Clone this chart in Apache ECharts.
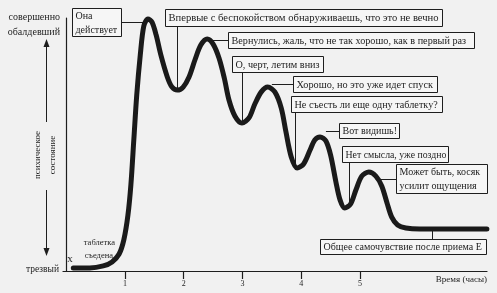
<!DOCTYPE html>
<html><head><meta charset="utf-8">
<script src="https://cdn.jsdelivr.net/npm/echarts@6/dist/echarts.min.js"></script>
<style>html,body{margin:0;padding:0;background:#f1f1f1}#c{width:497px;height:293px}</style>
</head><body><div id="c"></div>
<script>
// Time (hours) and mental-state level (0 = sober, 100 = completely stoned)
const hours = [0.12,0.40,0.63,0.78,0.90,0.98,1.05,1.10,1.15,1.20,1.26,1.32,1.39,1.46,1.53,1.61,1.72,1.80,1.89,1.99,2.09,2.19,2.29,2.40,2.50,2.60,2.69,2.77,2.87,2.99,3.11,3.21,3.32,3.43,3.55,3.66,3.74,3.83,3.93,4.04,4.15,4.23,4.32,4.42,4.50,4.59,4.66,4.74,4.84,4.93,5.03,5.15,5.27,5.37,5.46,5.54,5.64,5.78,6.02,7.16];
const level = [1.2,1.2,2.0,3.6,6.7,12.3,22.1,34.0,51.8,69.6,85.4,96.8,99.6,98.4,93.3,85.4,76.7,72.7,71.5,72.7,76.7,83.4,89.3,91.7,89.7,84.2,76.3,67.6,61.3,58.5,60.5,66.0,70.8,72.7,70.8,64.4,54.9,45.1,40.7,42.3,47.8,51.8,53.0,51.4,45.8,35.2,28.1,24.9,26.5,32.0,37.5,39.1,37.5,33.6,26.9,21.3,18.2,17.0,16.6,16.6];
const tickHours = [1,2,3,4,5];
const xAxisName = 'Время (часы)';
const noteTexts = ['Она\nдействует','Впервые с беспокойством обнаруживаешь, что это не вечно','Вернулись, жаль, что не так хорошо, как в первый раз','О, черт, летим вниз','Хорошо, но это уже идет спуск','Не съесть ли еще одну таблетку?','Вот видишь!','Нет смысла, уже поздно','Может быть, косяк\nусилит ощущения','Общее самочувствие после приема E'];
// points on the curve that each note refers to [hours, level]
const noteAnchors = [[1.31,98.4],[1.885,72.3],[2.48,91.3],[2.99,59.3],[3.50,73.9],[3.89,41.1],[4.42,55.3],[4.81,25.7],[5.27,38.3],[6.23,15.8]];

// layout of the note boxes (pixels)
const boxLayout = [
  {x:72,y:8,w:49,h:28,leader:'right',fs:10},
  {x:165,y:9,w:277,h:17,leader:'down',fs:10.6},
  {x:228,y:32,w:246,h:16,leader:'left',fs:10.2},
  {x:232,y:56,w:91,h:16,leader:'down',fs:10.2},
  {x:293,y:76,w:144,h:16,leader:'left',fs:10.3},
  {x:291,y:96,w:151,h:16,leader:'down',fs:10.2},
  {x:339,y:123,w:60,h:15,leader:'left',fs:10},
  {x:342,y:146,w:106,h:16,leader:'down',fs:9.8},
  {x:396,y:164,w:91,h:29,leader:'left',fs:10},
  {x:320,y:239,w:166,h:15,leader:'up',fs:10}
];
const INK = '#1e1e1e';
const SERIF = '"Liberation Serif", "DejaVu Serif", serif';

const chart = echarts.init(document.getElementById('c'), null, {renderer:'canvas'});
chart.setOption({
  backgroundColor:'#f1f1f1',
  animation:false,
  grid:{left:63,right:10,top:18,bottom:22},
  xAxis:{type:'value',min:-0.0553,max:7.1617,splitLine:{show:false},
    axisLine:{lineStyle:{color:INK,width:1.2}},
    axisTick:{customValues:tickHours,length:8,lineStyle:{color:INK,width:1.2}},
    axisLabel:{customValues:tickHours,fontFamily:SERIF,fontSize:8,color:INK,margin:9}},
  yAxis:{type:'value',min:0,max:100,splitLine:{show:false},
    axisLine:{show:true,lineStyle:{color:INK,width:1.2}},
    axisTick:{show:false},axisLabel:{show:false}},
  series:[{type:'line',data:hours.map((h,i)=>[h,level[i]]),smooth:0.3,symbol:'none',showSymbol:false,clip:false,
    lineStyle:{color:'#1a1a1a',width:5,cap:'round'},z:5}]
});

const g = [];
function txt(x,y,text,size,align,extra){
  return Object.assign({type:'text',x:x,y:y,z:20,style:{text:text,fontFamily:SERIF,fontSize:size,fill:INK,align:align||'left',verticalAlign:'middle'}},extra||{});
}
function seg(x1,y1,x2,y2,z){
  return {type:'line',z:z||1,shape:{x1:x1,y1:y1,x2:x2,y2:y2},style:{stroke:INK,lineWidth:1}};
}
noteTexts.forEach((t,i)=>{
  const b = boxLayout[i];
  const a = chart.convertToPixel({gridIndex:0}, noteAnchors[i]);
  g.push({type:'rect',z:10,shape:{x:b.x+0.5,y:b.y+0.5,width:b.w,height:b.h},style:{fill:'#f6f6f6',stroke:INK,lineWidth:1}});
  const lines = t.split('\n');
  const lh = b.h/lines.length;
  lines.forEach((l,k)=>g.push(txt(b.x+3.5,b.y+0.5+lh*(k+0.5)+0.5,l,b.fs)));
  const my = Math.round(b.y+b.h/2)+0.5;
  const ax = Math.round(a[0])+0.5;
  if(b.leader==='left') g.push(seg(b.x,my,a[0],my));
  if(b.leader==='right') g.push(seg(b.x+b.w,my,a[0],my));
  if(b.leader==='down') g.push(seg(ax,b.y+b.h,ax,a[1]));
  if(b.leader==='up') g.push(seg(ax,b.y,ax,a[1]));
});
// left-side labels and the double arrow
g.push(txt(60,17,'совершенно',10,'right'));
g.push(txt(60,32,'обалдевший',10,'right'));
g.push(txt(59,269,'трезвый',9.5,'right'));
g.push(seg(46.5,44,46.5,122,3));
g.push(seg(46.5,190,46.5,250,3));
g.push({type:'polygon',z:3,shape:{points:[[46.5,39],[43.5,47],[49.5,47]]},style:{fill:INK}});
g.push({type:'polygon',z:3,shape:{points:[[46.5,256],[43.5,248],[49.5,248]]},style:{fill:INK}});
g.push(txt(38,155,'психическое',9,'center',{rotation:Math.PI/2}));
g.push(txt(53,155,'состояние',9,'center',{rotation:Math.PI/2}));
g.push(txt(115,243,'таблетка',8.5,'right'));
g.push(txt(113,256,'съедена',8.5,'right'));
g.push(txt(70,259,'x',11,'center'));
g.push(txt(487,280,xAxisName,9,'right'));
chart.setOption({graphic:{elements:g}});
</script></body></html>
